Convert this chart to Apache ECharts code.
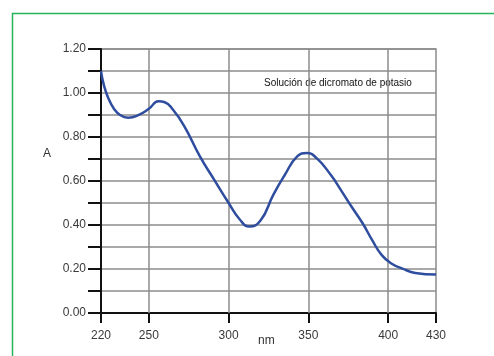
<!DOCTYPE html>
<html><head><meta charset="utf-8">
<script src="https://cdn.jsdelivr.net/npm/echarts@6/dist/echarts.min.js"></script>
<style>html,body{margin:0;padding:0;background:#fff}#c{width:494px;height:356px}</style>
</head><body><div id="c"></div>
<script>
const wavelengths = [220,222,225,228,232,237,243,250,256,260,265,272,282,291,300,307,313,320,328,335,343,349,355,364,371,377,384,390,396,402,409,417,430];
const absorbance = [1.10,1.03,0.97,0.93,0.90,0.888,0.898,0.928,0.962,0.958,0.925,0.852,0.712,0.605,0.50,0.425,0.393,0.42,0.537,0.625,0.712,0.727,0.705,0.628,0.552,0.484,0.408,0.331,0.263,0.225,0.202,0.182,0.175];
const xTickLabels = [220,250,300,350,400,430];
const xGridLines = [250,300,350,400];
const yLabelStep = 0.2;
const seriesTitle = 'Solución de dicromato de potasio';

const chart = echarts.init(document.getElementById('c'));
const gridGray = '#8c8c8c';
chart.setOption({
  animation:false,
  grid:{left:101,right:58,top:49,bottom:43,show:true,borderColor:gridGray,borderWidth:1.5,backgroundColor:'transparent'},
  xAxis:{type:'value',min:220,max:430,
    axisLine:{show:true,onZero:false,lineStyle:{color:'#111',width:2}},
    axisTick:{show:true,customValues:xTickLabels,length:10,lineStyle:{color:'#111',width:2}},
    axisLabel:{customValues:xTickLabels,margin:17,fontSize:12,color:'#3a3a3a',fontFamily:'Liberation Sans, Arial'},
    splitLine:{show:false}},
  yAxis:{type:'value',min:0,max:1.2,interval:0.1,
    axisLine:{show:true,lineStyle:{color:'#111',width:2}},
    axisTick:{show:true,length:13,lineStyle:{color:'#111',width:2}},
    axisLabel:{margin:15,fontSize:12,color:'#3a3a3a',fontFamily:'Liberation Sans, Arial',padding:[0,0,6,0],
      formatter:function(v){const r=Math.round(v*10);return (r%Math.round(yLabelStep*10)===0)?v.toFixed(2):'';}},
    splitLine:{show:true,lineStyle:{color:gridGray,width:1.5}}},
  graphic:[
    {type:'rect',shape:{x:12.5,y:13.5,width:520,height:400},style:{fill:'none',stroke:'#27b35a',lineWidth:1.5},z:-1},
    {type:'text',left:43,top:148,style:{text:'A',fontSize:12,fill:'#333',fontFamily:'Liberation Sans, Arial'}},
    {type:'text',left:258,top:335,style:{text:'nm',fontSize:12,fill:'#333',fontFamily:'Liberation Sans, Arial'}},
    {type:'text',left:264,top:78,style:{text:seriesTitle,fontSize:10,fill:'#111',fontFamily:'Liberation Sans, Arial'}}
  ],
  series:[
    {type:'line',data:[],z:1,silent:true,
      markLine:{silent:true,symbol:['none','none'],label:{show:false},lineStyle:{color:gridGray,width:1.5,type:'solid'},
        data:xGridLines.map(v=>({xAxis:v}))}},
    {type:'line',z:5,smooth:0.5,showSymbol:false,data:wavelengths.map((w,i)=>[w,absorbance[i]]),
      lineStyle:{color:'#2f4d9e',width:2.5}}
  ]
});
</script></body></html>
